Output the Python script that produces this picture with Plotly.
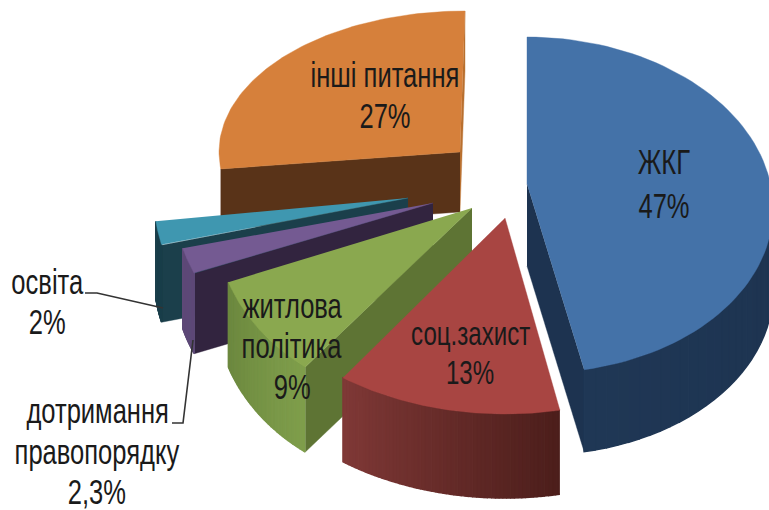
import numpy as np
import plotly.graph_objects as go

# ---- data (clockwise from 12 o'clock) ----
categories = ["ЖКГ", "соц.захист", "житлова політика", "дотримання правопорядку", "освіта", "інші питання"]
values = [47, 13, 9, 2.3, 2, 27]
value_labels = ["47%", "13%", "9%", "2,3%", "2%", "27%"]

# ---- styling / projection of each exploded slice ----
centers = [(527, 205), (505, 218), (472, 208), (433, 203), (408, 198), (465, 152)]
tips = [(527, 184), (505, 218), (472, 208), (433, 203), (408, 198), (460, 152)]
radii = [(241, 168), (280, 196), (241, 195), (258, 186), (254, 194), (246, 141)]
skews = [10, 0, -30, 0, 0, 0]
depths = [82, 84, 85, 80, 77, 60]
top_colors = ["#4472a8", "#a84542", "#8aa84f", "#745a92", "#3f97b0", "#d6803b"]
cut_colors = ["#1d3350", "#7d3634", "#5e7434", "#32243f", "#1b3f4b", "#593318"]
wall_from = ["#1f3755", "#7f3836", "#6c883f", "#5e4a78", "#1b3f4b", "#593318"]
wall_to = ["#1b2f4a", "#4c1e1b", "#7f9e4b", "#5e4a78", "#1b3f4b", "#593318"]
end_face_color = "#b9702f"
draw_order = [5, 4, 3, 2, 1, 0]

label_x = [664, 470, 292, 97, 47, 385]
label_y = [[161, 205], [333, 372], [305, 345, 386], [410, 451, 491], [281, 321], [74, 115]]
label_size = [35, 33, 35, 35, 35, 35]
label_lines = [["ЖКГ"], ["соц.захист"], ["житлова", "політика"],
               ["дотримання", "правопорядку"], ["освіта"], ["інші питання"]]
leaders = {4: [(85, 293), (97, 293), (163, 308)], 3: [(172, 423), (183, 423), (193, 340)]}

W, H = 769, 510
FONT = "Liberation Sans, sans-serif"
TEXT_SQUEEZE = 0.73


def hex_mix(a, b, t):
    ca = [int(a[i:i + 2], 16) for i in (1, 3, 5)]
    cb = [int(b[i:i + 2], 16) for i in (1, 3, 5)]
    return "#%02x%02x%02x" % tuple(round(x + (y - x) * t) for x, y in zip(ca, cb))


fig = go.Figure()


def poly(xs, ys, color, lw=0.4):
    fig.add_trace(go.Scatter(x=list(xs), y=list(ys), mode="lines", fill="toself", fillcolor=color,
                             line=dict(color=color, width=lw), hoverinfo="skip", showlegend=False))


total = sum(values)
edges = np.cumsum([0] + values) / total * 2 * np.pi

for i in draw_order:
    a0, a1 = edges[i], edges[i + 1]
    cx, cy = centers[i]
    tx, ty = tips[i]
    rx, ry = radii[i]
    d = depths[i]

    def rim(angles):
        return (cx + rx * np.sin(angles) + skews[i] * (1 - np.cos(angles)) / 2,
                cy - ry * np.cos(angles))

    ex, ey = rim(np.linspace(a0, a1, 80))

    # the cut faces that can be seen from above
    if i == 0:
        poly([tx, ex[-1], ex[-1], tx], [ty, ey[-1], ey[-1] + d, ty + d], cut_colors[i])
    elif i == 5:
        poly([tx, ex[-1], ex[-1], tx], [ty, ey[-1], ey[-1] + d, ty + d], end_face_color)
        poly([tx, ex[0], ex[0], tx], [ty, ey[0], ey[0] + d, ty + d], cut_colors[i])
    elif i != 1:
        poly([tx, ex[0], ex[0], tx], [ty, ey[0], ey[0] + d, ty + d], cut_colors[i])

    # outer curved wall, only where it faces the viewer
    n = 60
    bounds = np.linspace(a0, a1, n + 1)
    for k in range(n):
        mid = (bounds[k] + bounds[k + 1]) / 2
        if np.cos(mid) > 0.02 or i == 5:
            continue
        sx, sy = rim(np.linspace(bounds[k], bounds[k + 1], 3))
        mix = 1 - k / (n - 1)
        poly(list(sx) + list(sx[::-1]), list(sy) + list((sy + d)[::-1]),
             hex_mix(wall_from[i], wall_to[i], mix), lw=1.5)

    # top face
    poly([tx] + list(ex), [ty] + list(ey), top_colors[i])

annotations = []
for i in range(len(values)):
    for line, py in zip(label_lines[i] + [value_labels[i]], label_y[i]):
        annotations.append(dict(x=label_x[i], y=py, xref="x", yref="y", text=line, showarrow=False,
                                xanchor="center", yanchor="middle", align="center",
                                font=dict(family=FONT, size=label_size[i], color="#1a1a1a")))

for pts in leaders.values():
    fig.add_trace(go.Scatter(x=[p[0] for p in pts], y=[p[1] for p in pts], mode="lines",
                             line=dict(color="#333333", width=1.6), hoverinfo="skip", showlegend=False))

fig.update_layout(width=W, height=H, margin=dict(l=0, r=0, t=0, b=0), autosize=False,
                  paper_bgcolor="white", plot_bgcolor="white", showlegend=False,
                  annotations=annotations,
                  xaxis=dict(range=[0, W], visible=False, fixedrange=True),
                  yaxis=dict(range=[H, 0], visible=False, fixedrange=True))

# The reference lettering is condensed and no narrow face is installed: squeeze the real text.
post = """
document.body.style.margin = '0';
document.querySelectorAll('.annotation-text').forEach(function (el) {
  var b = el.getBBox();
  var c = b.x + b.width / 2;
  el.setAttribute('transform', 'translate(' + c + ',0) scale(%s,1) translate(' + (-c) + ',0)');
});
""" % TEXT_SQUEEZE
fig.write_html("out.html", config={"displayModeBar": False}, post_script=post)
